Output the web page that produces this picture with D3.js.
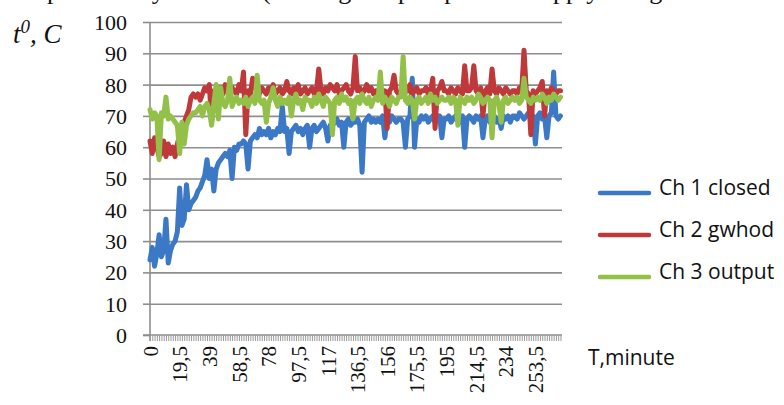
<!DOCTYPE html>
<html>
<head>
<meta charset="utf-8">
<script src="https://cdn.jsdelivr.net/npm/d3@7/dist/d3.min.js"></script>
<style>
  html, body { margin: 0; padding: 0; background: #fff; }
  svg { display: block; }
</style>
</head>
<body>
<svg id="chart" width="784" height="405"></svg>
<script>
// Sampling interval of the logger, minutes
const sampleStep = 1.5;

// Channel readings, °C, one value per sample
const ch1Closed = [
  24, 28, 22, 26, 32, 25, 27, 37, 23, 27,
  29, 30, 33, 47, 35, 37, 48, 40, 42, 43,
  44, 46, 47, 49, 51, 56, 50, 53, 46, 53,
  55, 56, 57, 58, 57, 59, 50, 60, 59, 61,
  61, 62, 61, 53, 62, 63, 64, 63, 66, 64,
  65, 64, 66, 63, 65, 64, 66, 65, 73, 65,
  66, 58, 65, 66, 67, 65, 66, 64, 66, 67,
  60, 66, 67, 65, 66, 67, 68, 66, 62, 67,
  67, 68, 69, 67, 68, 60, 68, 69, 67, 68,
  68, 69, 67, 52, 68, 69, 70, 68, 69, 68,
  69, 68, 70, 63, 69, 68, 70, 69, 68, 69,
  69, 68, 60, 69, 70, 82, 60, 69, 68, 70,
  69, 70, 68, 69, 70, 68, 69, 70, 63, 69,
  69, 70, 68, 69, 70, 69, 68, 70, 60, 69,
  70, 69, 68, 70, 69, 70, 63, 69, 70, 68,
  69, 70, 68, 69, 66, 70, 69, 70, 68, 70,
  70, 69, 71, 70, 69, 70, 71, 69, 70, 61,
  70, 71, 69, 70, 63, 70, 71, 84, 70, 69, 70
];
const ch2Gwhod = [
  62, 58, 63, 60, 57, 58, 62, 57, 61, 58,
  60, 57, 61, 64, 66, 68, 70, 72, 76, 77,
  76, 77, 75, 77, 79, 78, 80, 68, 78, 77,
  78, 79, 77, 80, 78, 76, 79, 78, 77, 80,
  78, 84, 64, 78, 77, 82, 79, 78, 77, 79,
  78, 77, 79, 78, 80, 77, 78, 79, 77, 78,
  81, 78, 77, 79, 78, 80, 77, 78, 79, 77,
  78, 79, 77, 78, 85, 78, 77, 79, 78, 80,
  79, 78, 80, 77, 78, 79, 80, 78, 77, 79,
  89, 78, 79, 77, 78, 80, 78, 79, 77, 78,
  78, 79, 77, 78, 66, 78, 79, 83, 78, 77,
  78, 77, 79, 78, 80, 77, 78, 79, 77, 78,
  78, 79, 77, 78, 82, 66, 78, 79, 81, 78,
  78, 77, 79, 78, 77, 79, 78, 77, 86, 78,
  78, 79, 86, 78, 77, 79, 70, 78, 79, 77,
  85, 78, 77, 79, 78, 77, 79, 78, 77, 78,
  78, 77, 79, 78, 91, 78, 77, 64, 78, 77,
  78, 79, 81, 70, 78, 77, 79, 78, 77, 78, 78
];
const ch3Output = [
  72, 69, 71, 70, 56, 71, 70, 76, 69, 70,
  69, 68, 67, 58, 68, 61, 67, 69, 70, 71,
  71, 72, 73, 70, 73, 74, 72, 67, 74, 80,
  69, 79, 74, 73, 75, 82, 73, 75, 76, 74,
  75, 74, 76, 73, 75, 76, 74, 83, 75, 74,
  75, 68, 74, 76, 79, 75, 73, 76, 74, 75,
  74, 76, 70, 75, 77, 74, 75, 72, 76, 75,
  75, 73, 76, 74, 77, 75, 73, 76, 75, 74,
  64, 75, 76, 74, 77, 75, 76, 74, 75, 69,
  75, 76, 74, 77, 75, 74, 76, 73, 75, 76,
  75, 84, 74, 76, 75, 73, 76, 75, 74, 76,
  76, 89, 75, 74, 76, 75, 69, 75, 76, 74,
  75, 76, 74, 77, 75, 76, 74, 75, 76, 75,
  75, 76, 74, 76, 75, 67, 76, 75, 74, 76,
  75, 76, 74, 75, 77, 76, 74, 75, 76, 75,
  63, 75, 76, 74, 68, 75, 76, 74, 75, 76,
  75, 76, 74, 75, 82, 76, 75, 74, 76, 75,
  76, 75, 77, 76, 74, 76, 75, 77, 76, 75, 76
];

const seriesNames = ["Ch 1 closed", "Ch 2 gwhod", "Ch 3 output"];
const seriesColors = ["#3b78c6", "#c0393a", "#92c048"];

const yTicks = [0, 10, 20, 30, 40, 50, 60, 70, 80, 90, 100];
const xTickLabels = ["0", "19,5", "39", "58,5", "78", "97,5", "117", "136,5",
                     "156", "175,5", "195", "214,5", "234", "253,5"];
const xTickValues = [0, 19.5, 39, 58.5, 78, 97.5, 117, 136.5,
                     156, 175.5, 195, 214.5, 234, 253.5];
const xMax = 271;

const svg = d3.select("#chart");

const plot = { left: 150, right: 562, top: 22, bottom: 335 };
const x = d3.scaleLinear().domain([0, xMax]).range([plot.left, plot.right]);
const y = d3.scaleLinear().domain([0, 100]).range([plot.bottom, plot.top]);

const serif = "'Liberation Serif', 'Times New Roman', serif";
const sans = "'Open Sans', 'Noto Sans', sans-serif";

// Caption line running above the chart, cut by the top edge
const caption = svg.append("text")
  .attr("y", -1)
  .attr("font-family", serif)
  .attr("font-size", 26)
  .attr("fill", "#111");
[["temperature by", 8], ["the", 180], ["(the", 262], ["regime", 318],
 ["pump", 398], ["and", 462], ["supply", 530], ["using", 606]].forEach(([w, px]) => {
  caption.append("tspan").attr("x", px).text(w);
});

// Horizontal gridlines
svg.append("g")
  .attr("transform", `translate(${plot.left},0)`)
  .call(d3.axisLeft(y).tickValues(yTicks.filter(v => v > 0))
    .tickSize(-(plot.right - plot.left)).tickFormat(""))
  .call(g => g.select(".domain").remove())
  .call(g => g.selectAll("line").attr("stroke", "#8e8e8e").attr("stroke-width", 1.6));

// Y axis with tick labels
svg.append("g")
  .attr("transform", `translate(${plot.left},0)`)
  .call(d3.axisLeft(y).tickValues(yTicks).tickSize(7).tickPadding(16))
  .call(g => g.select(".domain").attr("d", `M0,${plot.top}V${plot.bottom + 6}`)
    .attr("stroke", "#8e8e8e").attr("stroke-width", 1.6))
  .call(g => g.selectAll("line").attr("stroke", "#8e8e8e").attr("stroke-width", 1.6))
  .call(g => g.selectAll("text").attr("font-family", serif).attr("font-size", 22)
    .attr("fill", "#111").attr("dy", "0.34em"));

// X axis: one minor tick per sample
const sampleTimes = ch1Closed.map((_, i) => i * sampleStep);
svg.append("g")
  .attr("transform", `translate(0,${plot.bottom})`)
  .call(d3.axisBottom(x).tickValues(sampleTimes).tickSize(6).tickFormat(""))
  .call(g => g.select(".domain").attr("d", `M${plot.left - 7},0H${plot.right}`)
    .attr("stroke", "#8e8e8e").attr("stroke-width", 1.6))
  .call(g => g.selectAll("line").attr("stroke", "#9a9a9a").attr("stroke-width", 1));

// X axis labels, rotated
svg.append("g")
  .attr("transform", `translate(0,${plot.bottom})`)
  .call(d3.axisBottom(x).tickValues(xTickValues)
    .tickFormat((d, i) => xTickLabels[i]).tickSize(0))
  .call(g => g.select(".domain").remove())
  .call(g => g.selectAll("text")
    .attr("font-family", serif).attr("font-size", 21).attr("fill", "#111")
    .attr("text-anchor", "end")
    .attr("transform", "rotate(-90)")
    .attr("x", -11).attr("y", 0).attr("dy", "0.34em"));

// Series lines
const line = d3.line()
  .x((d, i) => x(i * sampleStep))
  .y(d => y(d));

[ch1Closed, ch2Gwhod, ch3Output].forEach((vals, k) => {
  svg.append("path")
    .datum(vals)
    .attr("d", line)
    .attr("fill", "none")
    .attr("stroke", seriesColors[k])
    .attr("stroke-width", 5)
    .attr("stroke-linejoin", "round")
    .attr("stroke-linecap", "round");
});

// Axis titles
const yTitle = svg.append("text")
  .attr("x", 13).attr("y", 43)
  .attr("font-family", serif).attr("font-size", 27)
  .attr("font-style", "italic").attr("fill", "#111");
yTitle.append("tspan").text("t");
yTitle.append("tspan").attr("dy", -10).attr("font-size", 19).text("0");
yTitle.append("tspan").attr("dy", 10).text(", C");

svg.append("text")
  .attr("x", 588).attr("y", 365)
  .attr("font-family", sans).attr("font-size", 21).attr("fill", "#111")
  .text("T,minute");

// Legend
const legendY = [193, 235, 277];
seriesNames.forEach((name, k) => {
  const g = svg.append("g").attr("transform", `translate(0,${legendY[k]})`);
  g.append("line")
    .attr("x1", 600).attr("x2", 649).attr("y1", 0).attr("y2", 0)
    .attr("stroke", seriesColors[k]).attr("stroke-width", 4.5)
    .attr("stroke-linecap", "round");
  g.append("text")
    .attr("x", 659).attr("y", 2)
    .attr("font-family", sans).attr("font-size", 21).attr("fill", "#111")
    .text(name);
});
</script>
</body>
</html>
